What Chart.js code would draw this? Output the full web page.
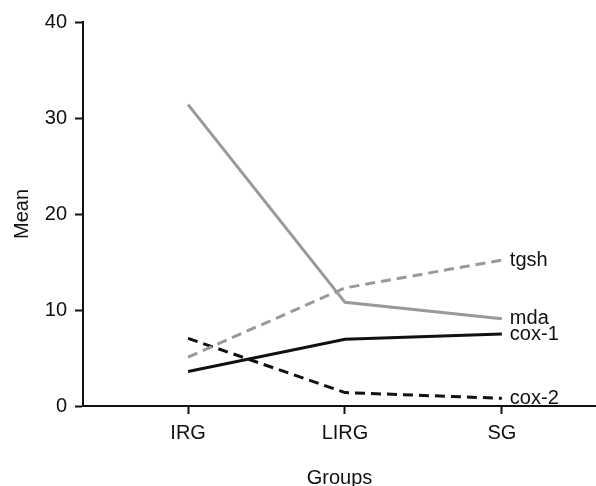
<!DOCTYPE html>
<html>
<head>
<meta charset="utf-8">
<script src="https://cdn.jsdelivr.net/npm/chart.js@4/dist/chart.umd.min.js"></script>
<style>
  html, body { margin: 0; padding: 0; background: #fff; }
  #wrap { width: 596px; height: 486px; }
</style>
</head>
<body>
<div id="wrap"><canvas id="chart"></canvas></div>
<script>
const groups = ['IRG', 'LIRG', 'SG'];
const mda = [31.4, 10.8, 9.1];
const tgsh = [5.1, 12.3, 15.2];
const cox1 = [3.6, 6.95, 7.5];
const cox2 = [7.05, 1.4, 0.8];
const yTicks = [0, 10, 20, 30, 40];

const grey = '#999999';
const black = '#111111';
const font = 'Liberation Sans, Arial, Helvetica, sans-serif';

let points = (vals) => vals.map((v, i) => ({ x: i + 1, y: v }));

// series name drawn right after the last point
const endLabels = {
    id: 'endLabels',
    afterDatasetsDraw(chart) {
        let ctx = chart.ctx;
        ctx.save();
        ctx.font = '20px ' + font;
        ctx.fillStyle = '#111';
        ctx.textAlign = 'left';
        ctx.textBaseline = 'middle';
        chart.data.datasets.forEach((ds, i) => {
            let meta = chart.getDatasetMeta(i);
            let last = meta.data[meta.data.length - 1];
            ctx.fillText(ds.label, last.x + 8, last.y);
        });
        ctx.restore();
    }
};

let ctx = document.getElementById('chart').getContext('2d');
let myChart = new Chart(ctx, {
    type: 'line',
    data: {
        datasets: [
            { label: 'tgsh', data: points(tgsh), borderColor: grey, borderDash: [10, 6] },
            { label: 'mda', data: points(mda), borderColor: grey },
            { label: 'cox-1', data: points(cox1), borderColor: black },
            { label: 'cox-2', data: points(cox2), borderColor: black, borderDash: [10, 6] }
        ]
    },
    options: {
        responsive: true,
        maintainAspectRatio: false,
        animation: false,
        devicePixelRatio: 1,
        layout: { padding: { top: 22, right: 0, left: 0, bottom: 0 } },
        elements: {
            point: { radius: 0 },
            line: { borderWidth: 3, tension: 0, borderCapStyle: 'butt' }
        },
        scales: {
            x: {
                type: 'linear',
                min: 0.33,
                max: 3.6,
                afterBuildTicks: (axis) => { axis.ticks = groups.map((g, i) => ({ value: i + 1 })); },
                afterFit: (axis) => { axis.height = 80; },
                grid: { display: true, drawOnChartArea: false, drawTicks: true, tickLength: 8, tickWidth: 2, color: '#111' },
                border: { display: true, color: '#111', width: 2 },
                ticks: {
                    padding: 7,
                    maxRotation: 0,
                    color: '#111',
                    font: { family: font, size: 20 },
                    callback: (v) => groups[v - 1]
                },
                title: { display: true, text: 'Groups', color: '#111', font: { family: font, size: 20, lineHeight: 0.8 }, padding: { top: 0, bottom: 0 } }
            },
            y: {
                min: 0,
                max: 40,
                afterBuildTicks: (axis) => { axis.ticks = yTicks.map(v => ({ value: v })); },
                afterFit: (axis) => { axis.width = 83; },
                grid: { display: true, drawOnChartArea: false, drawTicks: true, tickLength: 8, tickWidth: 2, color: '#111' },
                border: { display: true, color: '#111', width: 2 },
                ticks: { padding: 8, color: '#111', font: { family: font, size: 20 } },
                title: { display: true, text: 'Mean', color: '#111', font: { family: font, size: 20 }, padding: { top: 10, bottom: 0 } }
            }
        },
        plugins: {
            legend: { display: false },
            tooltip: { enabled: false }
        }
    },
    plugins: [endLabels]
});
</script>
</body>
</html>
